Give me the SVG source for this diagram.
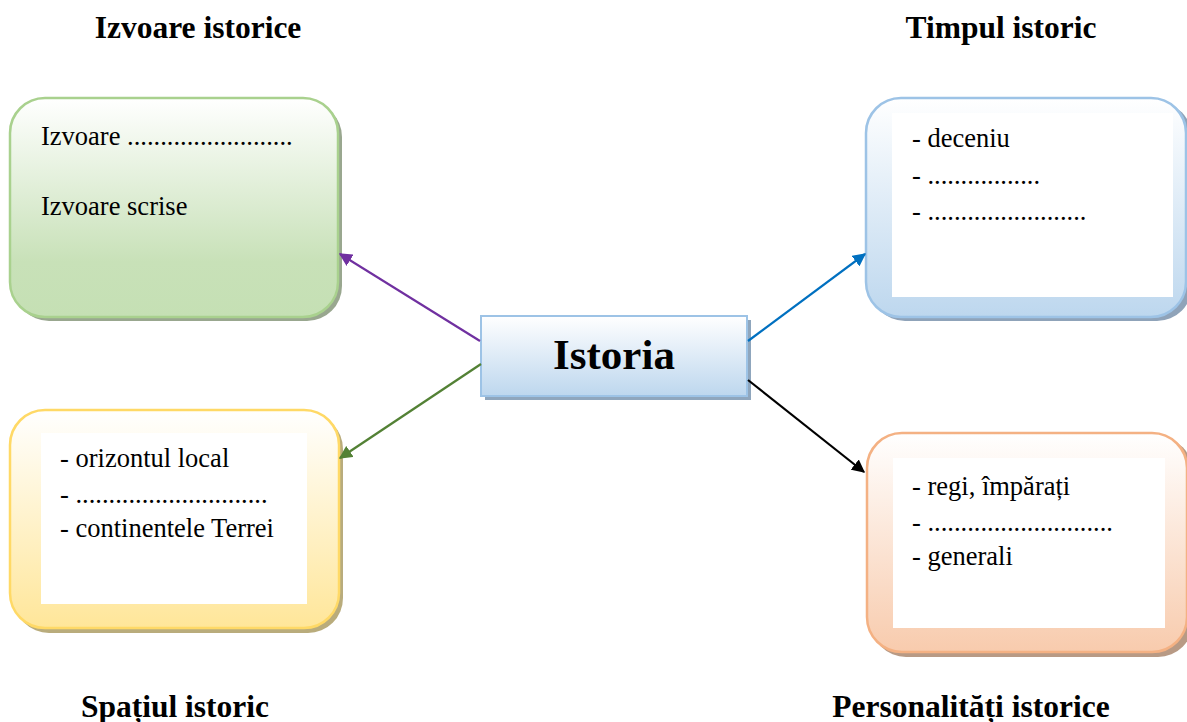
<svg xmlns="http://www.w3.org/2000/svg" width="1187" height="722" viewBox="0 0 1187 722">
<defs>
<linearGradient id="gGreen" x1="0" y1="0" x2="0" y2="1"><stop offset="0" stop-color="#ffffff"/><stop offset="0.75" stop-color="#c8e1b8"/><stop offset="1" stop-color="#c5e0b4"/></linearGradient>
<linearGradient id="gBlue" x1="0" y1="0" x2="0" y2="1"><stop offset="0" stop-color="#ffffff"/><stop offset="1" stop-color="#bdd7ee"/></linearGradient>
<linearGradient id="gYellow" x1="0" y1="0" x2="0" y2="1"><stop offset="0" stop-color="#ffffff"/><stop offset="1" stop-color="#ffe699"/></linearGradient>
<linearGradient id="gOrange" x1="0" y1="0" x2="0" y2="1"><stop offset="0" stop-color="#ffffff"/><stop offset="1" stop-color="#f8cbad"/></linearGradient>
<marker id="mPurple" viewBox="0 0 10 10" refX="9" refY="5" markerWidth="6" markerHeight="6" orient="auto" markerUnits="strokeWidth"><path d="M0,0 L10,5 L0,10 z" fill="#7030a0"/></marker>
<marker id="mGreen" viewBox="0 0 10 10" refX="9" refY="5" markerWidth="6" markerHeight="6" orient="auto" markerUnits="strokeWidth"><path d="M0,0 L10,5 L0,10 z" fill="#538135"/></marker>
<marker id="mBlue" viewBox="0 0 10 10" refX="9" refY="5" markerWidth="6" markerHeight="6" orient="auto" markerUnits="strokeWidth"><path d="M0,0 L10,5 L0,10 z" fill="#0070c0"/></marker>
<marker id="mBlack" viewBox="0 0 10 10" refX="9" refY="5" markerWidth="6" markerHeight="6" orient="auto" markerUnits="strokeWidth"><path d="M0,0 L10,5 L0,10 z" fill="#000000"/></marker>
</defs>
<style>
.title{font-family:"Liberation Serif",serif;font-weight:bold;font-size:31.5px;fill:#000;text-anchor:middle}
.txt{font-family:"Liberation Serif",serif;font-size:26.5px;fill:#000}
.center{font-family:"Liberation Serif",serif;font-weight:bold;font-size:43px;fill:#000;text-anchor:middle}
.inner{fill:#ffffff}
.conn{fill:none;stroke-width:2.2}
</style>
<g id="titles">
<text class="title" x="198" y="38">Izvoare istorice</text>
<text class="title" x="1001" y="38">Timpul istoric</text>
<text class="title" x="175" y="717">Spațiul istoric</text>
<text class="title" x="971" y="717">Personalități istorice</text>
</g>
<g id="node-izvoare">
<rect x="14" y="102" width="328" height="219" rx="35" fill="#99a78f"/>
<rect x="10" y="98" width="328" height="219" rx="35" fill="url(#gGreen)" stroke="#a9d18e" stroke-width="2.5"/>
<text class="txt" x="41" y="145">Izvoare .........................</text>
<text class="txt" x="41" y="215">Izvoare scrise</text>
</g>
<g id="node-timpul">
<rect x="870" y="102" width="322" height="219" rx="35" fill="#8fa3b9"/>
<rect x="866" y="98" width="320" height="219" rx="35" fill="url(#gBlue)" stroke="#9dc3e6" stroke-width="2.5"/>
<rect class="inner" x="892" y="113" width="281" height="184"/>
<text class="txt" x="912" y="147">- deceniu</text>
<text class="txt" x="912" y="184">- .................</text>
<text class="txt" x="912" y="220">- ........................</text>
</g>
<g id="node-spatiul">
<rect x="14" y="414" width="329" height="219" rx="35" fill="#b9ac7c"/>
<rect x="10" y="410" width="329" height="218" rx="35" fill="url(#gYellow)" stroke="#ffd966" stroke-width="2.5"/>
<rect class="inner" x="41" y="433" width="266" height="171"/>
<text class="txt" x="60" y="467">- orizontul local</text>
<text class="txt" x="60" y="503">- .............................</text>
<text class="txt" x="60" y="537">- continentele Terrei</text>
</g>
<g id="node-personalitati">
<rect x="871" y="437" width="322" height="220" rx="35" fill="#b89a85"/>
<rect x="867" y="433" width="320" height="219" rx="35" fill="url(#gOrange)" stroke="#f4b183" stroke-width="2.5"/>
<rect class="inner" x="893" y="458" width="272" height="170"/>
<text class="txt" x="912" y="495">- regi, împărați</text>
<text class="txt" x="912" y="531">- ............................</text>
<text class="txt" x="912" y="565">- generali</text>
</g>
<g id="node-istoria">
<rect x="485" y="320" width="266" height="80" fill="#8fa6bd"/>
<rect x="481" y="316" width="266" height="80" fill="url(#gBlue)" stroke="#9dc3e6" stroke-width="2"/>
<text class="center" x="614" y="369">Istoria</text>
</g>
<g id="connectors">
<line class="conn" x1="480" y1="341" x2="340" y2="254" stroke="#7030a0" marker-end="url(#mPurple)"/>
<line class="conn" x1="481" y1="364" x2="340" y2="458" stroke="#538135" marker-end="url(#mGreen)"/>
<line class="conn" x1="748" y1="341" x2="865" y2="254" stroke="#0070c0" marker-end="url(#mBlue)"/>
<line class="conn" x1="748" y1="380" x2="864" y2="472" stroke="#000000" marker-end="url(#mBlack)"/>
</g>
</svg>
